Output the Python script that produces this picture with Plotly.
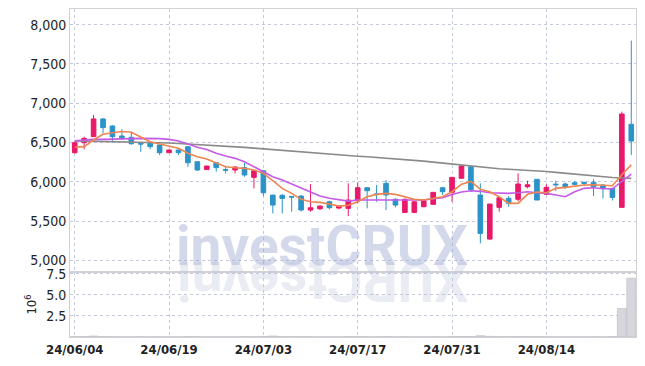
import plotly.graph_objects as go
from plotly.subplots import make_subplots

dates = ["2024-06-04", "2024-06-05", "2024-06-07", "2024-06-10", "2024-06-11", "2024-06-12", "2024-06-13", "2024-06-14",
         "2024-06-17", "2024-06-18", "2024-06-19", "2024-06-20", "2024-06-21", "2024-06-24", "2024-06-25", "2024-06-26",
         "2024-06-27", "2024-06-28", "2024-07-01", "2024-07-02", "2024-07-03", "2024-07-04", "2024-07-05", "2024-07-08",
         "2024-07-09", "2024-07-10", "2024-07-11", "2024-07-12", "2024-07-15", "2024-07-16", "2024-07-17", "2024-07-18",
         "2024-07-19", "2024-07-22", "2024-07-23", "2024-07-24", "2024-07-25", "2024-07-26", "2024-07-29", "2024-07-30",
         "2024-07-31", "2024-08-01", "2024-08-02", "2024-08-05", "2024-08-06", "2024-08-07", "2024-08-08", "2024-08-09",
         "2024-08-12", "2024-08-13", "2024-08-14", "2024-08-16", "2024-08-19", "2024-08-20", "2024-08-21", "2024-08-22",
         "2024-08-23", "2024-08-26", "2024-08-27", "2024-08-28"]

open_ = [6370, 6497, 6574, 6800, 6710, 6583, 6566, 6490, 6490, 6468,
         6370, 6404, 6446, 6255, 6155, 6243, 6155, 6150, 6180, 6056,
         6140, 5830, 5827, 5812, 5818, 5640, 5656, 5745, 5665, 5661,
         5758, 5924, 5845, 5980, 5776, 5610, 5610, 5682, 5712, 5924,
         5865, 6044, 6191, 5831, 5270, 5674, 5789, 5776, 5936, 6031,
         5840, 5970, 5971, 5987, 5993, 5993, 5958, 5916, 5674, 6732]
high = [6510, 6574, 6850, 6808, 6720, 6668, 6640, 6500, 6500, 6475,
        6410, 6410, 6450, 6260, 6205, 6250, 6190, 6195, 6243, 6145,
        6145, 5835, 5843, 5820, 5830, 5971, 5700, 5760, 5700, 5980,
        5993, 5930, 5958, 6022, 5790, 5790, 5750, 5760, 5870, 5935,
        6060, 6210, 6195, 5980, 5716, 5810, 5818, 6107, 6013, 6035,
        5967, 6013, 5990, 6010, 5995, 6031, 5965, 5920, 6893, 7798]
low = [6360, 6413, 6570, 6617, 6510, 6532, 6470, 6380, 6413, 6340,
       6365, 6340, 6190, 6137, 6150, 6128, 6107, 6107, 6064, 5916,
       5818, 5597, 5597, 5618, 5620, 5618, 5640, 5650, 5650, 5563,
       5725, 5661, 5745, 5639, 5674, 5600, 5600, 5675, 5705, 5831,
       5745, 6040, 5870, 5215, 5260, 5618, 5682, 5750, 5916, 5767,
       5830, 5884, 5910, 5950, 5945, 5818, 5786, 5762, 5670, 6340]
close = [6497, 6553, 6800, 6689, 6574, 6561, 6485, 6480, 6447, 6370,
         6404, 6370, 6242, 6150, 6200, 6180, 6148, 6188, 6086, 6140,
         5860, 5703, 5788, 5805, 5640, 5669, 5690, 5669, 5690, 5767,
         5924, 5886, 5840, 5831, 5703, 5776, 5745, 5758, 5865, 5873,
         6056, 6200, 5900, 5342, 5716, 5796, 5725, 5971, 5962, 5767,
         5929, 5962, 5929, 5967, 5980, 5937, 5916, 5801, 6863, 6519]

ma_short = [6439, 6447, 6532, 6604, 6625, 6640, 6630, 6574, 6510, 6481,
            6455, 6426, 6362, 6319, 6290, 6243, 6191, 6178, 6171, 6149,
            6107, 6013, 5916, 5852, 5776, 5745, 5737, 5716, 5690, 5700,
            5745, 5809, 5839, 5852, 5839, 5809, 5776, 5767, 5788, 5809,
            5873, 5970, 6005, 5903, 5873, 5809, 5725, 5725, 5840, 5870,
            5860, 5916, 5929, 5945, 5958, 5962, 5958, 5950, 6090, 6215]
ma_mid = [6523, 6532, 6540, 6540, 6540, 6545, 6549, 6553, 6553, 6549,
          6540, 6520, 6481, 6440, 6410, 6362, 6328, 6298, 6255, 6191,
          6128, 6064, 6022, 5971, 5916, 5860, 5818, 5789, 5767, 5754,
          5767, 5767, 5767, 5776, 5776, 5776, 5767, 5767, 5784, 5797,
          5839, 5870, 5886, 5878, 5860, 5852, 5852, 5860, 5873, 5860,
          5852, 5831, 5809, 5873, 5916, 5924, 5910, 5910, 6000, 6096]
ma_long = [6520, 6518, 6517, 6515, 6513, 6510, 6507, 6504, 6500, 6497,
           6493, 6488, 6482, 6476, 6470, 6462, 6455, 6447, 6438, 6428,
           6418, 6408, 6398, 6388, 6378, 6368, 6358, 6349, 6340, 6332,
           6325, 6318, 6310, 6302, 6293, 6284, 6274, 6263, 6250, 6237,
           6224, 6213, 6198, 6185, 6173, 6166, 6160, 6154, 6148, 6140,
           6130, 6120, 6108, 6096, 6085, 6074, 6064, 6055, 6048, 6043]

volume_m = [0.04, 0.05, 0.12, 0.05, 0.04, 0.03, 0.03, 0.04, 0.03, 0.04,
            0.03, 0.03, 0.05, 0.04, 0.03, 0.03, 0.03, 0.03, 0.04, 0.04,
            0.06, 0.12, 0.05, 0.04, 0.05, 0.04, 0.03, 0.03, 0.03, 0.05,
            0.05, 0.04, 0.03, 0.05, 0.03, 0.04, 0.03, 0.03, 0.04, 0.03,
            0.05, 0.06, 0.06, 0.15, 0.08, 0.05, 0.04, 0.06, 0.04, 0.05,
            0.04, 0.03, 0.03, 0.03, 0.03, 0.04, 0.03, 0.05, 3.4, 7.0]

tick_idx = [0, 10, 20, 30, 40, 50]
tick_dates = [dates[i] for i in tick_idx]
tick_text = [d[2:].replace("-", "/") for d in tick_dates]

PINK = "#e8196a"
BLUE = "#2b93c8"
GRID = "#c5c9de"
AXLINE = "#d2d2d6"
FONT = "DejaVu Sans Condensed, Roboto, sans-serif"

fig = make_subplots(rows=2, cols=1, shared_xaxes=True, vertical_spacing=0,
                    row_heights=[0.802, 0.198])

fig.add_trace(go.Candlestick(
    x=dates, open=open_, high=high, low=low, close=close,
    increasing=dict(line=dict(color=PINK, width=1), fillcolor=PINK),
    decreasing=dict(line=dict(color=BLUE, width=1), fillcolor=BLUE),
    whiskerwidth=0, showlegend=False, name="price"), row=1, col=1)

fig.add_trace(go.Scatter(x=dates, y=ma_long, mode="lines",
                         line=dict(color="#8a8a8a", width=1.6), showlegend=False), row=1, col=1)
fig.add_trace(go.Scatter(x=dates, y=ma_mid, mode="lines",
                         line=dict(color="#c55ae6", width=1.6), showlegend=False), row=1, col=1)
fig.add_trace(go.Scatter(x=dates, y=ma_short, mode="lines",
                         line=dict(color="#ee8550", width=1.6), showlegend=False), row=1, col=1)

fig.add_trace(go.Bar(x=dates, y=volume_m, marker=dict(color="#d6d6dc", line=dict(color="#b8b8c0", width=0.6)),
                     showlegend=False), row=2, col=1)

axis_common = dict(showline=True, linecolor=AXLINE, linewidth=1, mirror=True,
                   showgrid=True, gridcolor=GRID, griddash="dot", gridwidth=1,
                   zeroline=False, ticks="", automargin=False)

fig.update_xaxes(type="category", range=[-0.5, 59.5], tickvals=tick_dates, ticktext=tick_text,
                 rangeslider_visible=False, **axis_common)
fig.update_xaxes(showticklabels=False, row=1, col=1)
fig.update_xaxes(showticklabels=True, tickfont=dict(family=FONT, size=13, color="#222", weight="bold"),
                 row=2, col=1)

fig.update_yaxes(range=[4850, 8200], tickvals=[5000, 5500, 6000, 6500, 7000, 7500, 8000],
                 tickformat=",", tickfont=dict(family=FONT, size=14, color="#222"),
                 row=1, col=1, **axis_common)
fig.update_yaxes(range=[0, 7.73], tickvals=[2.5, 5.0, 7.5], tickformat=".1f",
                 tickfont=dict(family=FONT, size=14, color="#222"),
                 title=dict(text="10<sup>6</sup>", font=dict(family=FONT, size=13, color="#222"), standoff=6),
                 row=2, col=1, **axis_common)

fig.add_annotation(text="investCRUX", xref="paper", yref="paper", x=0.446, y=0.276,
                   xanchor="center", yanchor="middle", showarrow=False,
                   font=dict(family="Roboto, sans-serif", size=55, weight="bold", color="rgba(150,165,205,0.42)"))
fig.add_annotation(text="XURCtsevni", xref="paper", yref="paper", x=0.446, y=0.17,
                   xanchor="center", yanchor="middle", showarrow=False, textangle=180,
                   font=dict(family="Roboto, sans-serif", size=55, weight="bold", color="rgba(185,192,215,0.3)"))

# page body has an 8px default margin: size the figure so the plot lands where the reference has it
fig.update_layout(width=637, height=358, margin=dict(l=62, r=9, t=1, b=29, autoexpand=False),
                  paper_bgcolor="white", plot_bgcolor="white", bargap=0.05,
                  hovermode=False)

fig.write_html("out.html")
